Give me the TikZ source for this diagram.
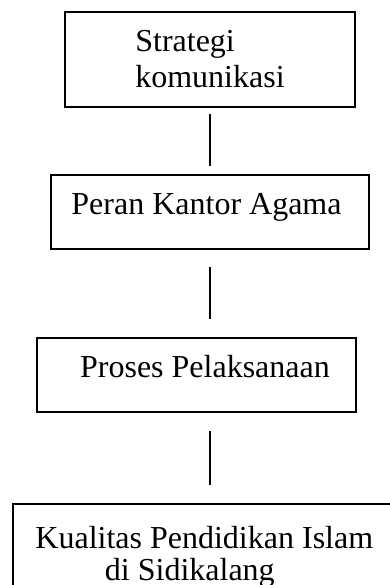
\documentclass[tikz,border=0pt]{standalone}
\usepackage{fontspec}
\setmainfont{Liberation Serif}
\usetikzlibrary{positioning}

\begin{document}
\begin{tikzpicture}[
    x=1pt, y=-1pt,
    box/.style={
      draw, line width=1.6pt, inner sep=0pt,
      font=\fontsize{32}{36}\selectfont
    },
    onebox/.style={
      box, minimum height=74pt, text depth=17pt
    },
    link/.style={line width=1.4pt},
  ]
    \clip (0,0) rectangle (390,585);
    \node[box, align=left, minimum width=290pt, minimum height=95pt]
      (strategi) at (210,59.5) {Strategi\\komunikasi};
    \node[onebox, minimum width=318pt] (peran) at (210,212)
      {Peran Kantor Agama\hspace*{7pt}};
    \node[onebox, minimum width=319pt] (proses) at (196.5,375)
      {\hspace*{17pt}Proses Pelaksanaan};
    \node[box, align=center, anchor=north west, minimum width=383pt,
      inner ysep=22pt, font=\fontsize{32}{32}\selectfont]
      (kualitas) at (12,503)
      {Kualitas Pendidikan Islam\\di Sidikalang\hspace*{29pt}};
    \draw[link, shorten <=6pt, shorten >=8pt] (strategi.south) -- (peran.north);
    \draw[link, shorten <=17pt, shorten >=18pt]
      (peran.south) -- (peran.south |- proses.north);
    \draw[link, shorten <=18pt, shorten >=18pt]
      (peran.south |- proses.south) -- (peran.south |- kualitas.north);
\end{tikzpicture}
\end{document}
